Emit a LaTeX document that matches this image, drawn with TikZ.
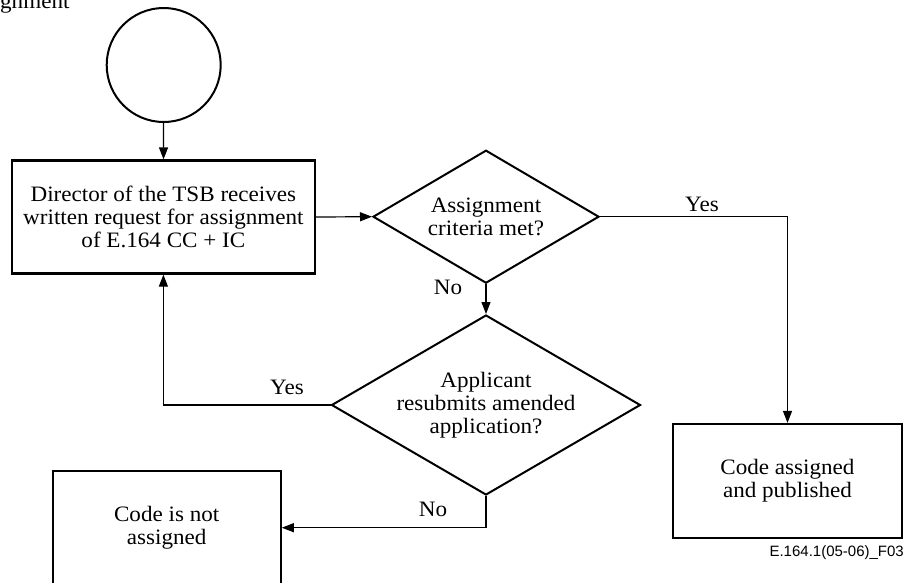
\documentclass[tikz,border=0pt]{standalone}
\usepackage{fontspec}
\setmainfont{Liberation Serif}[FakeStretch=1.05]
\newfontfamily\figsans{Liberation Sans}
\usetikzlibrary{shapes.geometric,arrows.meta}
\tikzset{
  txt/.style={font=\fontsize{22}{23}\selectfont, align=center},
  procbox/.style={txt, draw, line width=2.2pt, rectangle, inner sep=0pt},
  decision/.style={txt, draw, line width=2pt, diamond, inner sep=0pt},
  startcirc/.style={draw, line width=2pt, circle, inner sep=0pt, minimum size=114pt},
  conn/.style={line width=1.2pt, -{Triangle[length=12pt,width=9pt]}},
  lbl/.style={font=\fontsize{22}{23}\selectfont, inner sep=0pt},
}
\begin{document}
\begin{tikzpicture}[x=1pt,y=-1pt]
\useasboundingbox (0,0) rectangle (908,582);
\clip (0,0) rectangle (908,582);

\node[lbl, anchor=base west] (title) at (0,8.3) {gnment};

\node[startcirc] (start) at (163.7,65) {};
\node[procbox, minimum width=303pt, minimum height=113pt] (req) at (163.4,217)
  {Director of the TSB receives\\written request for assignment\\of E.164 CC + IC};
\node[decision, aspect=1.699, minimum width=226pt, minimum height=133pt] (crit) at (486,216.7)
  {Assignment\\criteria met?};
\node[decision, aspect=1.717, minimum width=309pt, minimum height=180pt] (resub) at (486,405)
  {Applicant\\resubmits amended\\application?};
\node[procbox, minimum width=229pt, minimum height=114pt] (pub) at (787.5,481)
  {Code assigned\\and published};
\node[procbox, minimum width=228pt, minimum height=114pt] (notass) at (166.7,527.7)
  {Code is not\\assigned};

\draw[conn] (start) -- (req);
\draw[conn] (req.east) -- (crit.west);
\draw[conn] (crit.east) -| (pub.north);
\draw[conn] (crit.south) -- (resub.north);
\draw[conn] (resub.west) -| (req.south);
\draw[conn] (resub.south) |- (notass.east);

\node[lbl] (yes1) at (702,204) {Yes};
\node[lbl] (no1) at (448,287) {No};
\node[lbl] (yes2) at (287,387) {Yes};
\node[lbl] (no2) at (433,509) {No};

\node[font=\figsans\fontsize{15}{17}\selectfont, anchor=east, inner sep=0pt] (fig) at (904,553) {E.164.1(05-06)\_F03};
\end{tikzpicture}
\end{document}
